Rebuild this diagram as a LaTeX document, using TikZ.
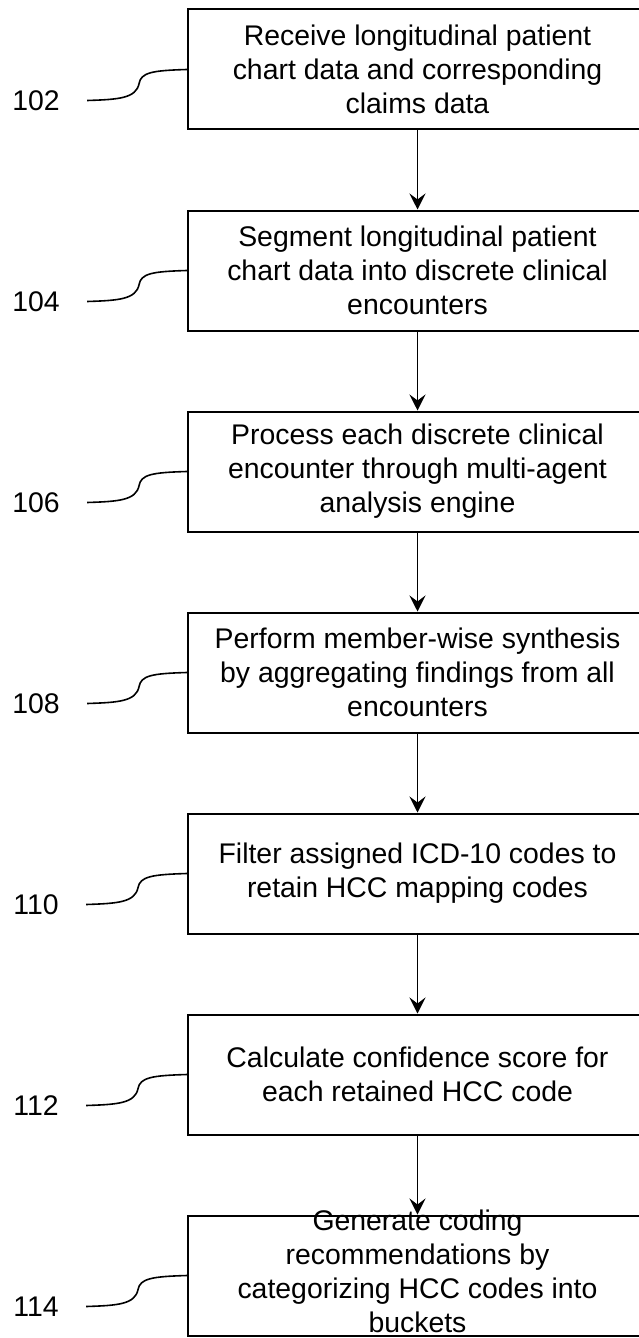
\documentclass[tikz,border=0pt]{standalone}
\usepackage{fontspec}
\setmainfont{Liberation Sans}
\usetikzlibrary{calc,arrows.meta,positioning}
\tikzstyle{stepbox}=[draw,line width=1pt,minimum width=229.5pt,minimum height=60pt,inner sep=0pt,align=center,font=\fontsize{14.2}{17}\selectfont]
\tikzstyle{steptext}=[inner sep=0pt,align=center,font=\fontsize{14.2}{17}\selectfont]
\tikzstyle{reflabel}=[inner sep=0pt,font=\fontsize{14.2}{17}\selectfont]
\tikzstyle{flow}=[line width=0.6pt,-{Stealth[length=8pt,width=8pt,inset=3pt]}]
\tikzstyle{leader}=[line width=0.8pt]

\begin{document}
\begin{tikzpicture}[node distance=39.5pt]
\useasboundingbox (0,0) rectangle (319pt,-669pt);

% steps
\node [stepbox] (s1) at (208.75pt,-34.75pt) {Receive longitudinal patient\\chart data and corresponding\\claims data};
\node [stepbox,below=of s1] (s2) {Segment longitudinal patient\\chart data into discrete clinical\\encounters};
\node [stepbox,below=of s2] (s3) {Process each discrete clinical\\encounter through multi-agent\\analysis engine};
\node [stepbox,below=of s3] (s4) {Perform member-wise synthesis\\by aggregating findings from all\\encounters};
\node [stepbox,below=of s4] (s5) {Filter assigned ICD-10 codes to\\retain HCC mapping codes};
\node [stepbox,below=of s5] (s6) {Calculate confidence score for\\each retained HCC code};
\node [stepbox,below=of s6] (s7) {};
\node [steptext] (t7) at ([yshift=2pt]s7.center) {Generate coding\\recommendations by\\categorizing HCC codes into\\buckets};

% flow
\draw [flow] (s1) -- (s2);
\draw [flow] (s2) -- (s3);
\draw [flow] (s3) -- (s4);
\draw [flow] (s4) -- (s5);
\draw [flow] (s5) -- (s6);
\draw [flow] (s6) -- (s7);

% reference numerals
\node [reflabel] (n1) at ($(s1.west)+(-75.5pt,-15.5pt)$) {102};
\node [reflabel] (n2) at ($(s2.west)+(-75.5pt,-15.5pt)$) {104};
\node [reflabel] (n3) at ($(s3.west)+(-75.5pt,-15.5pt)$) {106};
\node [reflabel] (n4) at ($(s4.west)+(-75.5pt,-15.5pt)$) {108};
\node [reflabel] (n5) at ($(s5.west)+(-75.5pt,-15.5pt)$) {110};
\node [reflabel] (n6) at ($(s6.west)+(-75.5pt,-15.5pt)$) {112};
\node [reflabel] (n7) at ($(s7.west)+(-75.5pt,-15.5pt)$) {114};

\draw [leader] ([xshift=13.5pt]n1.east) .. controls +(15.5pt,0.5pt) and +(-1.5pt,-7.5pt) .. ++(26pt,8.5pt) .. controls +(1pt,5.5pt) and +(-17.5pt,-0.5pt) .. (s1.west);
\draw [leader] ([xshift=13.5pt]n2.east) .. controls +(15.5pt,0.5pt) and +(-1.5pt,-7.5pt) .. ++(26pt,8.5pt) .. controls +(1pt,5.5pt) and +(-17.5pt,-0.5pt) .. (s2.west);
\draw [leader] ([xshift=13.5pt]n3.east) .. controls +(15.5pt,0.5pt) and +(-1.5pt,-7.5pt) .. ++(26pt,8.5pt) .. controls +(1pt,5.5pt) and +(-17.5pt,-0.5pt) .. (s3.west);
\draw [leader] ([xshift=13.5pt]n4.east) .. controls +(15.5pt,0.5pt) and +(-1.5pt,-7.5pt) .. ++(26pt,8.5pt) .. controls +(1pt,5.5pt) and +(-17.5pt,-0.5pt) .. (s4.west);
\draw [leader] ([xshift=13.5pt]n5.east) .. controls +(15.5pt,0.5pt) and +(-1.5pt,-7.5pt) .. ++(26pt,8.5pt) .. controls +(1pt,5.5pt) and +(-17.5pt,-0.5pt) .. (s5.west);
\draw [leader] ([xshift=13.5pt]n6.east) .. controls +(15.5pt,0.5pt) and +(-1.5pt,-7.5pt) .. ++(26pt,8.5pt) .. controls +(1pt,5.5pt) and +(-17.5pt,-0.5pt) .. (s6.west);
\draw [leader] ([xshift=13.5pt]n7.east) .. controls +(15.5pt,0.5pt) and +(-1.5pt,-7.5pt) .. ++(26pt,8.5pt) .. controls +(1pt,5.5pt) and +(-17.5pt,-0.5pt) .. (s7.west);
\end{tikzpicture}
\end{document}
